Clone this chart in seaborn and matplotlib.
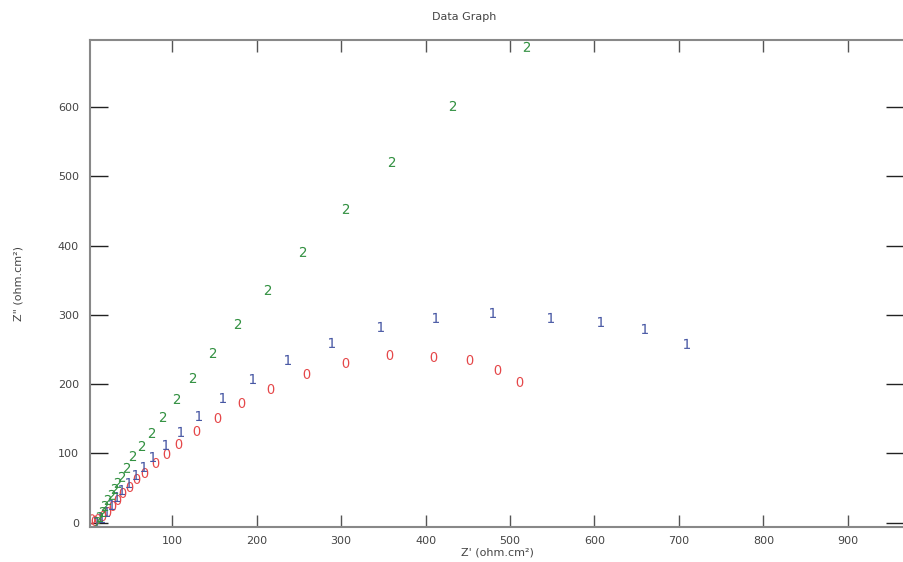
import numpy as np
import pandas as pd
import seaborn as sns
import matplotlib
matplotlib.use("Agg")
import matplotlib.pyplot as plt

sns.set_style("ticks")
plt.rcParams['font.family'] = ['DejaVu Sans']
plt.rcParams['mathtext.fontset'] = 'dejavusans'

zr_0 = [5, 8.4, 12.0, 17.9, 23.8, 29.7, 35.6, 41.6, 49.9, 58.2, 67.6, 80.7, 93.7,
        107.9, 129.2, 154.1, 182.5, 216.9, 259.5, 305.7, 357.8, 409.9, 452.6,
        485.7, 511.8]
zi_0 = [5, 2.5, 5.3, 9.7, 15.5, 24.2, 32.9, 43.0, 51.6, 63.2, 71.8, 86.3, 99.3,
        113.7, 132.5, 151.2, 172.9, 193.1, 214.8, 230.7, 242.2, 239.3, 235.0,
        220.6, 203.3]

zr_1 = [10.8, 16.7, 22.6, 28.5, 34.5, 40.4, 48.7, 57.0, 66.4, 77.1, 92.5, 110.3,
        131.6, 160.0, 195.5, 237.0, 289.1, 347.1, 412.3, 479.8, 548.5, 607.7,
        659.8, 709.6]
zi_1 = [1.0, 6.8, 15.5, 25.6, 37.1, 47.2, 57.3, 68.9, 80.5, 94.9, 112.3, 131.1,
        154.1, 180.1, 207.5, 235.0, 259.6, 282.7, 295.7, 302.9, 295.7, 289.9,
        279.8, 258.2]

zr_2 = [11.9, 14.3, 17.9, 20.3, 23.8, 28.5, 32.1, 35.6, 40.4, 46.3, 53.4, 64.1,
        75.9, 89.0, 105.5, 124.5, 148.2, 177.8, 213.3, 254.8, 305.7, 360.2,
        432.4, 520.0]
zi_2 = [1.0, 8.2, 15.5, 24.2, 32.9, 40.2, 48.8, 57.5, 66.2, 79.2, 96.3, 110.8,
        129.6, 152.7, 178.7, 209.0, 245.1, 287.0, 336.1, 391.0, 453.1, 520.9,
        601.8, 687.1]

x_ticks = [100, 200, 300, 400, 500, 600, 700, 800, 900]
y_ticks = [0, 100, 200, 300, 400, 500, 600]

df = pd.concat([
    pd.DataFrame({'zr': zr_0, 'zi': zi_0, 'run': '0'}),
    pd.DataFrame({'zr': zr_1, 'zi': zi_1, 'run': '1'}),
    pd.DataFrame({'zr': zr_2, 'zi': zi_2, 'run': '2'}),
])

colors = {'0': '#e5484a', '1': '#4656a3', '2': '#339142'}
markers = {'0': '$0$', '1': '$1$', '2': '$2$'}

fig = plt.figure(figsize=(9.04, 5.62), dpi=100)
ax = fig.add_axes([90 / 904, 34.7 / 562, 814 / 904, 487.3 / 562])

sns.scatterplot(data=df, x='zr', y='zi', hue='run', style='run',
                palette=colors, markers=markers, s=52, linewidth=0,
                legend=False, ax=ax)

ax.set_xlim(2.5, 966.6)
ax.set_ylim(-6.6, 697)
ax.set_xticks(x_ticks)
ax.set_yticks(y_ticks)

for side in ['left', 'bottom', 'top']:
    ax.spines[side].set_color('#888888')
    ax.spines[side].set_linewidth(1.5)
ax.spines['right'].set_visible(False)

ax.tick_params(axis='x', direction='in', length=8.5, width=1, top=True,
               color='#555555', labelsize=8, labelcolor='#444444', pad=6)
ax.tick_params(axis='y', direction='in', length=13, width=1, right=True,
               color='#222222', labelsize=8, labelcolor='#444444', pad=8)

ax.set_xlabel("Z' (ohm.cm²)", fontsize=8, color='#444444', labelpad=1)
ax.set_ylabel('Z" (ohm.cm²)', fontsize=8, color='#444444', labelpad=25)
fig.text(464 / 904, 1 - 17 / 562, 'Data Graph', ha='center', va='center',
         fontsize=8, color='#444444')

plt.savefig('out.png', dpi=100)
